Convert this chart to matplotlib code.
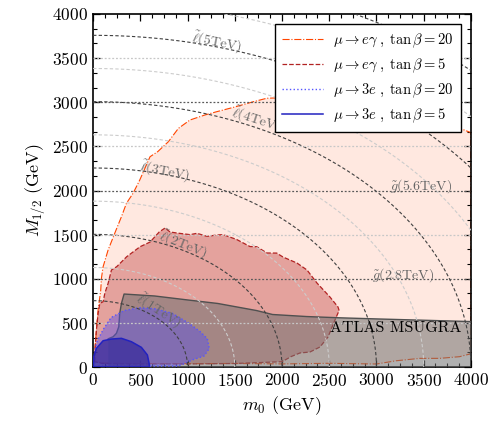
import numpy as np
import matplotlib
matplotlib.use('Agg')
import matplotlib.pyplot as plt
from matplotlib.ticker import MultipleLocator

plt.rcParams['font.family'] = 'serif'
plt.rcParams['font.serif'] = ['cmr10']
plt.rcParams['mathtext.fontset'] = 'cm'
plt.rcParams['axes.formatter.use_mathtext'] = True
plt.rcParams['axes.unicode_minus'] = False

# region boundaries (m0, M1/2) in GeV
meg20_m0 = [15, 18, 35, 53, 81, 88, 106, 159, 229, 300, 353, 423, 494, 603, 684, 797, 903,
            1026, 1185, 1309, 1485, 1697, 1838, 2200, 2600, 3000, 3400, 3800, 3990, 4000,
            4000, 3880, 3670, 3460, 3210, 3000, 2500, 2000, 1500, 1000, 500, 100]
meg20_M = [60, 193, 419, 646, 872, 1005, 1137, 1326, 1515, 1703, 1855, 1968, 2119, 2383, 2440,
           2553, 2704, 2799, 2856, 2893, 2942, 3006, 3045, 3060, 3020, 2960, 2870, 2740, 2660,
           2650, 150, 117, 98, 98, 71, 34, 42, 35, 40, 38, 40, 45]

meg5_m0 = [18, 20, 35, 53, 71, 106, 124, 159, 194, 250, 356, 497, 603, 700, 730, 762, 815, 889,
           1026, 1100, 1206, 1309, 1376, 1520, 1661, 1732, 1841, 1944, 2011, 2085, 2159, 2265,
           2370, 2508, 2593, 2605, 2561, 2487, 2402, 2296, 2190, 2100, 2000, 1500, 1000, 500, 100]
meg5_M = [60, 193, 419, 608, 721, 740, 835, 948, 1099, 1137, 1250, 1363, 1416, 1530, 1552, 1575,
          1530, 1518, 1500, 1515, 1480, 1496, 1500, 1445, 1365, 1363, 1292, 1291, 1246, 1212,
          1178, 1099, 952, 793, 680, 640, 533, 340, 227, 170, 159, 120, 60, 40, 35, 35, 40]

atlas_m0 = [160, 160, 212, 247, 272, 282, 300, 328, 650, 1000, 1320, 1730, 1900, 2260, 2600,
            3000, 3500, 4000, 4000]
atlas_M = [0, 320, 343, 382, 457, 608, 721, 827, 805, 760, 720, 640, 595, 572, 558, 545, 530,
           515, 0]

m3e20_m0 = [20, 45, 110, 190, 330, 490, 660, 840, 1015, 1135, 1210, 1230, 1175, 1050, 970, 900, 20]
m3e20_M = [200, 300, 430, 560, 640, 672, 660, 608, 495, 400, 320, 210, 125, 80, 40, 10, 10]

m3e5_m0 = [5, 7, 35, 106, 194, 300, 405, 511, 575, 593, 596]
m3e5_M = [0, 117, 212, 298, 317, 325, 287, 223, 136, 42, 0]

# iso-mass lines
slepton_dark = [1000, 2000, 3000, 4000, 5000, 6000]
slepton_light = [1500, 2500, 3500, 4500, 5500]
gluino_dark = [1000, 2000, 3000]
gluino_light = [500, 1500, 2500, 3500]

slepton_labels = ['1TeV', '2TeV', '3TeV', '4TeV', '5TeV']
slepton_lab_m0 = [688, 952, 762, 1725, 1312]
slepton_lab_M = [635, 1382, 2221, 2799, 3683]
slepton_lab_rot = [-33, -22, -11, -18, -11]
gluino_labels = ['2.8TeV', '5.6TeV']
gluino_lab_m0 = [3280, 3470]
gluino_lab_M = [1040, 2050]

fig = plt.figure(figsize=(4.9, 4.24), dpi=100)
ax = fig.add_axes([0.19, 0.1344, 0.771, 0.8326])

regions = [
    (meg20_m0, meg20_M, '#ff4500', 0.12, '#ff4500', '-.', 0.8,
     r'$\mu\to e\gamma\;,\;\tan\beta=20$'),
    (meg5_m0, meg5_M, '#b22222', 0.35, '#b22222', '--', 0.9,
     r'$\mu\to e\gamma\;,\;\tan\beta=5$'),
]
handles = []
for xs, ys, fc, a, ec, ls, lw, lab in regions:
    ax.fill(xs, ys, color=fc, alpha=a, lw=0, zorder=1)
    h, = ax.plot(xs + xs[:1], ys + ys[:1], color=ec, ls=ls, lw=lw, label=lab, zorder=2)
    handles.append(h)

ax.fill(atlas_m0, atlas_M, color='#707070', alpha=0.55, lw=0, zorder=3)
ax.plot(atlas_m0[1:-1], atlas_M[1:-1], color='#505050', lw=1.0, zorder=3)
ax.text(3206, 442, 'ATLAS MSUGRA', fontsize=11.5, ha='center', va='center', zorder=6)

regions = [
    (m3e20_m0, m3e20_M, '#5a50e8', 0.45, '#5555ff', ':', 1.0,
     r'$\mu\to 3e\;,\;\tan\beta=20$'),
    (m3e5_m0, m3e5_M, '#3d2f9e', 0.8, '#2222c0', '-', 1.1,
     r'$\mu\to 3e\;,\;\tan\beta=5$'),
]
for xs, ys, fc, a, ec, ls, lw, lab in regions:
    ax.fill(xs, ys, color=fc, alpha=a, lw=0, zorder=4)
    h, = ax.plot(xs + xs[:1], ys + ys[:1], color=ec, ls=ls, lw=lw, label=lab, zorder=4)
    handles.append(h)

# slepton iso-mass contours
g0 = np.linspace(0, 4000, 400)
G0, G1 = np.meshgrid(g0, g0)
Z = np.sqrt(G0 ** 2 + 1.77 * G1 ** 2)
ax.contour(G0, G1, Z, levels=slepton_light, colors='0.8', linewidths=0.8,
           linestyles=[(0, (3, 2))], zorder=5)
ax.contour(G0, G1, Z, levels=slepton_dark, colors='0.25', linewidths=0.8,
           linestyles=[(0, (3, 2))], zorder=5)
for v in gluino_light:
    ax.axhline(v, color='0.78', lw=0.9, ls=(0, (1.5, 1.5)), zorder=5)
for v in gluino_dark:
    ax.axhline(v, color='0.35', lw=0.9, ls=(0, (1.5, 1.5)), zorder=5)

for t, x, y, r in zip(slepton_labels, slepton_lab_m0, slepton_lab_M, slepton_lab_rot):
    ax.text(x, y, r'$\tilde{\ell}$(' + t + ')', rotation=r, fontsize=10, color='0.4',
            ha='center', va='center', rotation_mode='anchor', zorder=6)
for t, x, y in zip(gluino_labels, gluino_lab_m0, gluino_lab_M):
    ax.text(x, y, r'$\tilde{g}$(' + t + ')', fontsize=10, color='0.4',
            ha='center', va='center', zorder=6)

ax.set_xlim(0, 4000)
ax.set_ylim(0, 4000)
ax.xaxis.set_major_locator(MultipleLocator(500))
ax.yaxis.set_major_locator(MultipleLocator(500))
ax.xaxis.set_minor_locator(MultipleLocator(125))
ax.yaxis.set_minor_locator(MultipleLocator(500 / 3))
ax.tick_params(which='both', direction='in', top=True, right=True, labelsize=12.5)
ax.tick_params(which='major', length=5, width=0.9)
ax.tick_params(which='minor', length=3, width=0.8)
for s in ax.spines.values():
    s.set_linewidth(1.2)
ax.set_xlabel(r'$m_0$ (GeV)', fontsize=13)
ax.set_ylabel(r'$M_{1/2}$ (GeV)', fontsize=13)

leg = ax.legend(handles=handles, loc='upper right', fontsize=10.5, handlelength=2.8,
                labelspacing=0.45, borderpad=0.5, handletextpad=0.7, fancybox=False,
                framealpha=1, edgecolor='black', borderaxespad=0.7)
leg.get_frame().set_linewidth(1.0)
leg.set_zorder(10)

fig.savefig('out.png', dpi=100)
